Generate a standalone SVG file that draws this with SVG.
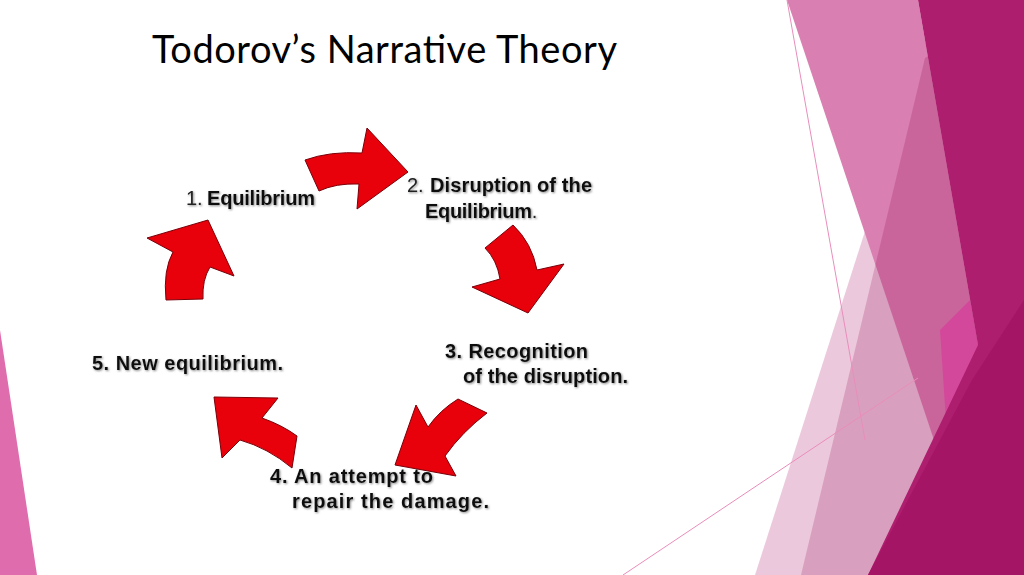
<svg xmlns="http://www.w3.org/2000/svg" width="1024" height="575" viewBox="0 0 1024 575">
  <defs>
    <style>
      .title { font-family: "Lato", "Liberation Sans", sans-serif; font-size: 38px; fill: #000; }
      .lbl { font-family: "Liberation Sans", "Arial", sans-serif; font-size: 20px; font-weight: bold; fill: #111; filter: url(#shadow); }
      .num { font-weight: normal; fill: #222; }
      .arrow { fill: #e8000b; stroke: #7a0008; stroke-width: 1; stroke-linejoin: miter; }
      .thin { stroke: #e98dbb; stroke-width: 1; fill: none; }
    </style>
    <filter id="shadow" x="-10%" y="-30%" width="120%" height="160%">
      <feGaussianBlur in="SourceAlpha" stdDeviation="1.2" result="b"/>
      <feOffset in="b" dx="1" dy="1" result="o"/>
      <feFlood flood-color="#555" flood-opacity="0.7"/>
      <feComposite in2="o" operator="in" result="s"/>
      <feMerge><feMergeNode in="s"/><feMergeNode in="SourceGraphic"/></feMerge>
    </filter>
  </defs>
  <rect width="1024" height="575" fill="#ffffff"/>

  <g id="background">
    <polygon points="0,330 37,575 0,575" fill="#df6dad"/>
    <polygon points="939,0 1024,0 1024,575 755,575" fill="#b42474" fill-opacity="0.25"/>
    <path d="M787,0 L918,0 L978,345 L950,438 Q942,446 934,440 Z" fill="#d97fb1"/>
    <polygon points="925,58 1024,0 1024,575 801,575" fill="#8c0046" fill-opacity="0.2"/>
    <polygon points="940,330 970,300 978,345 962,465 948,452" fill="#d4489b"/>
    <polygon points="918,0 1024,0 1024,575 868,575 978,345" fill="#ad1e6e"/>
    <polygon points="1024,300 1024,575 868,575 972,380" fill="#a51566"/>
    <line class="thin" x1="787" y1="0" x2="865" y2="440"/>
    <line class="thin" x1="623" y1="575" x2="918" y2="378"/>
  </g>

  <text class="title" x="152" y="63" textLength="465">Todorov’s Narrative Theory</text>

  <g id="connectors">
    <path class="arrow" d="M305,160 Q330,151 362,153 L367,128 L408,172 L357,209 L359,184 Q336,183 319,191 Z"/>
    <path class="arrow" d="M485,248 L513,225 Q532,243 537,270 L564,264 L528,313 L472,287 L500,279 Q497,260 485,248 Z"/>
    <path class="arrow" d="M458,399 L487,413 Q462,432 445,456 L456,476 L395,465 L416,405 L428,427 Q440,410 458,399 Z"/>
    <path class="arrow" d="M214,397 L278,398 L262,418 Q282,425 297,436 L292,468 Q268,448 240,440 L222,458 Z"/>
    <path class="arrow" d="M166,300 Q163,270 173,252 L147,238 L208,220 L234,276 L210,267 Q202,280 203,299 Z"/>
  </g>

  <g id="node1">
    <text class="lbl" x="186" y="205"><tspan class="num">1. </tspan><tspan x="207" textLength="108">Equilibrium</tspan></text>
  </g>
  <g id="node2">
    <text class="lbl" x="407" y="192"><tspan class="num">2. </tspan><tspan x="430" textLength="162">Disruption of the</tspan></text>
    <text class="lbl" x="425" y="218"><tspan textLength="107">Equilibrium</tspan><tspan class="num">.</tspan></text>
  </g>
  <g id="node3">
    <text class="lbl" x="445" y="358" textLength="143">3. Recognition</text>
    <text class="lbl" x="463" y="383" textLength="165">of the disruption.</text>
  </g>
  <g id="node4">
    <text class="lbl" x="270" y="483" textLength="163">4. An attempt to</text>
    <text class="lbl" x="292" y="508" textLength="197">repair the damage.</text>
  </g>
  <g id="node5">
    <text class="lbl" x="92" y="370" textLength="191">5. New equilibrium.</text>
  </g>
</svg>
